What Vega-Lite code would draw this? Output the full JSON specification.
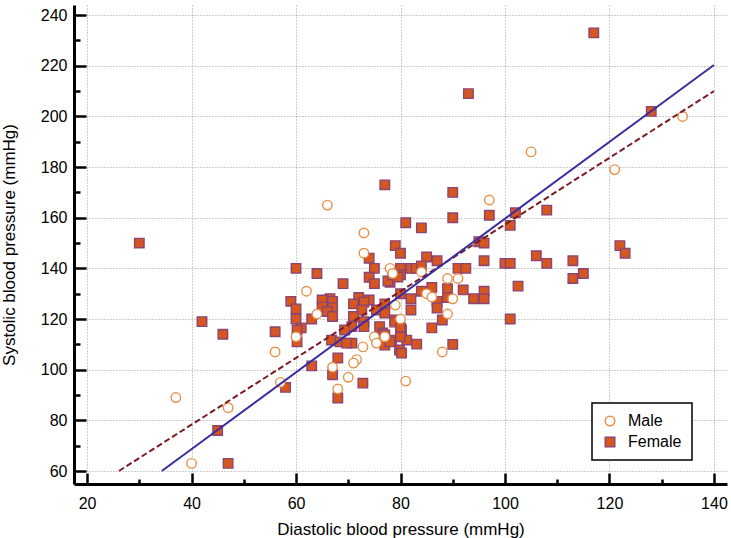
{
  "$schema": "https://vega.github.io/schema/vega-lite/v6.json",
  "width": 653,
  "height": 479,
  "autosize": {"type": "none"},
  "padding": {"left": 74, "top": 5, "right": 4, "bottom": 54},
  "config": {
    "view": {"stroke": null},
    "font": "Liberation Sans",
    "axis": {"labelFont": "Liberation Sans", "titleFont": "Liberation Sans"},
    "legend": {"labelFont": "Liberation Sans", "strokeWidth": 1.5}
  },
  "datasets": {
    "bp": [
      {"d":30,"s":150,"g":"Female"},{"d":117,"s":233,"g":"Female"},{"d":93,"s":209,"g":"Female"},{"d":128,"s":202,"g":"Female"},
      {"d":77,"s":173,"g":"Female"},{"d":90,"s":170,"g":"Female"},{"d":90,"s":160,"g":"Female"},{"d":97,"s":161,"g":"Female"},
      {"d":108,"s":163,"g":"Female"},{"d":102,"s":162,"g":"Female"},{"d":101,"s":157,"g":"Female"},{"d":81,"s":158,"g":"Female"},
      {"d":84,"s":156,"g":"Female"},{"d":79,"s":149,"g":"Female"},{"d":80,"s":146,"g":"Female"},{"d":95,"s":150.5,"g":"Female"},
      {"d":96,"s":150,"g":"Female"},{"d":96,"s":143,"g":"Female"},{"d":100,"s":142,"g":"Female"},{"d":101,"s":142,"g":"Female"},
      {"d":85,"s":144.5,"g":"Female"},{"d":87,"s":143,"g":"Female"},{"d":91,"s":140,"g":"Female"},{"d":92.5,"s":140,"g":"Female"},
      {"d":80,"s":140,"g":"Female"},{"d":82,"s":140,"g":"Female"},{"d":83,"s":140,"g":"Female"},{"d":84,"s":141,"g":"Female"},
      {"d":80,"s":137.5,"g":"Female"},{"d":78,"s":134.5,"g":"Female"},{"d":92,"s":131.5,"g":"Female"},{"d":96,"s":131,"g":"Female"},
      {"d":102.5,"s":133,"g":"Female"},{"d":86,"s":132.5,"g":"Female"},{"d":84,"s":131,"g":"Female"},{"d":89,"s":132,"g":"Female"},
      {"d":87,"s":127,"g":"Female"},{"d":82,"s":128,"g":"Female"},{"d":94,"s":128,"g":"Female"},{"d":89,"s":128.5,"g":"Female"},
      {"d":80,"s":130,"g":"Female"},{"d":77,"s":126,"g":"Female"},{"d":106,"s":145,"g":"Female"},{"d":108,"s":142,"g":"Female"},
      {"d":113,"s":143,"g":"Female"},{"d":113,"s":136,"g":"Female"},{"d":115,"s":138,"g":"Female"},{"d":122,"s":149,"g":"Female"},
      {"d":123,"s":146,"g":"Female"},{"d":101,"s":120,"g":"Female"},{"d":74,"s":144,"g":"Female"},{"d":75,"s":140,"g":"Female"},
      {"d":60,"s":140,"g":"Female"},{"d":64,"s":138,"g":"Female"},{"d":74,"s":136.5,"g":"Female"},{"d":75,"s":134,"g":"Female"},
      {"d":69,"s":134,"g":"Female"},{"d":77.6,"s":135,"g":"Female"},{"d":59,"s":127,"g":"Female"},{"d":66.5,"s":128,"g":"Female"},
      {"d":67,"s":127,"g":"Female"},{"d":60,"s":124,"g":"Female"},{"d":72,"s":128.5,"g":"Female"},{"d":74,"s":127.5,"g":"Female"},
      {"d":65,"s":127.5,"g":"Female"},{"d":65,"s":124.7,"g":"Female"},{"d":67,"s":124.5,"g":"Female"},{"d":66,"s":123,"g":"Female"},
      {"d":60,"s":120,"g":"Female"},{"d":63,"s":120,"g":"Female"},{"d":61,"s":116.5,"g":"Female"},{"d":67,"s":121,"g":"Female"},
      {"d":71,"s":126,"g":"Female"},{"d":73,"s":126.7,"g":"Female"},{"d":72.6,"s":123.6,"g":"Female"},{"d":71,"s":121,"g":"Female"},
      {"d":70.7,"s":117,"g":"Female"},{"d":73,"s":119,"g":"Female"},{"d":73,"s":117,"g":"Female"},{"d":75.4,"s":123.6,"g":"Female"},
      {"d":77,"s":122.4,"g":"Female"},{"d":76,"s":117,"g":"Female"},{"d":76.6,"s":114.5,"g":"Female"},{"d":78.3,"s":111.7,"g":"Female"},
      {"d":69.3,"s":115.7,"g":"Female"},{"d":66.8,"s":111.7,"g":"Female"},{"d":68.4,"s":111,"g":"Female"},{"d":70.7,"s":110.5,"g":"Female"},
      {"d":60.2,"s":115.7,"g":"Female"},{"d":60.2,"s":111,"g":"Female"},{"d":68,"s":104.6,"g":"Female"},{"d":78.9,"s":119.6,"g":"Female"},
      {"d":78.5,"s":137.4,"g":"Female"},{"d":79.5,"s":136.6,"g":"Female"},{"d":56,"s":115,"g":"Female"},{"d":63,"s":101.5,"g":"Female"},
      {"d":58,"s":93,"g":"Female"},{"d":69.7,"s":110.5,"g":"Female"},{"d":67,"s":98,"g":"Female"},{"d":72.8,"s":94.7,"g":"Female"},
      {"d":68,"s":88.8,"g":"Female"},{"d":82,"s":123.6,"g":"Female"},{"d":87,"s":124.3,"g":"Female"},{"d":96,"s":128,"g":"Female"},
      {"d":88,"s":119.6,"g":"Female"},{"d":86,"s":116.5,"g":"Female"},{"d":90,"s":110,"g":"Female"},{"d":78.9,"s":118.8,"g":"Female"},
      {"d":80.2,"s":115.7,"g":"Female"},{"d":77,"s":109.7,"g":"Female"},{"d":78,"s":111,"g":"Female"},{"d":79.8,"s":107.8,"g":"Female"},
      {"d":80.2,"s":106.6,"g":"Female"},{"d":81.2,"s":111.7,"g":"Female"},{"d":83.1,"s":110.1,"g":"Female"},{"d":80,"s":116.5,"g":"Female"},
      {"d":80,"s":113,"g":"Female"},{"d":77,"s":113.7,"g":"Female"},{"d":42,"s":119,"g":"Female"},{"d":46,"s":114,"g":"Female"},
      {"d":45,"s":76,"g":"Female"},{"d":47,"s":63,"g":"Female"},
      {"d":134,"s":200,"g":"Male"},{"d":121,"s":179,"g":"Male"},{"d":105,"s":186,"g":"Male"},{"d":66,"s":165,"g":"Male"},
      {"d":97,"s":167,"g":"Male"},{"d":73,"s":154,"g":"Male"},{"d":73,"s":146,"g":"Male"},{"d":62,"s":131,"g":"Male"},
      {"d":78,"s":140,"g":"Male"},{"d":78.5,"s":138,"g":"Male"},{"d":84,"s":138.6,"g":"Male"},{"d":89,"s":136,"g":"Male"},
      {"d":91,"s":136,"g":"Male"},{"d":85,"s":130,"g":"Male"},{"d":86,"s":128.7,"g":"Male"},{"d":90,"s":128,"g":"Male"},
      {"d":79,"s":125.5,"g":"Male"},{"d":89,"s":122,"g":"Male"},{"d":80,"s":120,"g":"Male"},{"d":64,"s":122,"g":"Male"},
      {"d":60,"s":113,"g":"Male"},{"d":56,"s":107,"g":"Male"},{"d":57,"s":95,"g":"Male"},{"d":72.8,"s":109,"g":"Male"},
      {"d":75,"s":113,"g":"Male"},{"d":75.4,"s":110.5,"g":"Male"},{"d":77,"s":113,"g":"Male"},{"d":71.6,"s":104,"g":"Male"},
      {"d":67,"s":101,"g":"Male"},{"d":71,"s":102.6,"g":"Male"},{"d":70,"s":97,"g":"Male"},{"d":68,"s":92.4,"g":"Male"},
      {"d":88,"s":107,"g":"Male"},{"d":81,"s":95.5,"g":"Male"},{"d":37,"s":89,"g":"Male"},{"d":47,"s":85,"g":"Male"},
      {"d":40,"s":63,"g":"Male"}
    ],
    "fits": [
      {"fit":"solid","d":34.3,"s":60},{"fit":"solid","d":140,"s":220.3},
      {"fit":"dashed","d":26.1,"s":60},{"fit":"dashed","d":140,"s":210}
    ]
  },
  "resolve": {"axis": {"x": "independent", "y": "independent"}},
  "layer": [
    {
      "data": {"name": "bp"},
      "mark": {"type": "point", "filled": false, "opacity": 1, "size": 90, "strokeWidth": 1.4},
      "encoding": {
        "x": {
          "field": "d", "type": "quantitative",
          "scale": {"domain": [17.5, 142.5], "nice": false, "zero": false},
          "axis": {
            "orient": "bottom",
            "values": [20, 40, 60, 80, 100, 120, 140],
            "tickSize": -11, "tickWidth": 2.5, "tickColor": "black",
            "domainColor": "black", "domainWidth": 3,
            "grid": true, "gridColor": "#9a9a9a", "gridDash": [1, 2], "gridWidth": 1,
            "labelFontSize": 16, "labelColor": "black", "labelPadding": 22, "labelFlush": false,
            "title": "Diastolic blood pressure (mmHg)", "titleFontSize": 17, "titleFontWeight": "normal",
            "titleColor": "black", "titlePadding": 10
          }
        },
        "y": {
          "field": "s", "type": "quantitative",
          "scale": {"domain": [54.87, 244], "nice": false, "zero": false},
          "axis": {
            "orient": "left",
            "values": [60, 80, 100, 120, 140, 160, 180, 200, 220, 240],
            "tickSize": -12, "tickWidth": 2.5, "tickColor": "black",
            "domainColor": "black", "domainWidth": 3,
            "grid": true, "gridColor": "#9a9a9a", "gridDash": [1, 2], "gridWidth": 1,
            "labelFontSize": 16, "labelColor": "black", "labelPadding": 19, "labelFlush": false,
            "title": "Systolic blood pressure (mmHg)", "titleFontSize": 17, "titleFontWeight": "normal",
            "titleColor": "black", "titlePadding": 22
          }
        },
        "shape": {
          "field": "g", "type": "nominal",
          "scale": {"domain": ["Male", "Female"], "range": ["circle", "square"]},
          "legend": {
            "title": null, "orient": "none", "legendX": 518, "legendY": 398,
            "strokeColor": "black", "fillColor": "white",
            "padding": 10, "labelFontSize": 16, "labelColor": "black", "symbolSize": 90,
            "rowPadding": 5, "labelOffset": 10
          }
        },
        "fill": {
          "field": "g", "type": "nominal",
          "scale": {"domain": ["Male", "Female"], "range": ["#ffffff", "#d5561e"]},
          "legend": {
            "title": null, "orient": "none", "legendX": 518, "legendY": 398,
            "strokeColor": "black", "fillColor": "white",
            "padding": 10, "labelFontSize": 16, "labelColor": "black", "symbolSize": 90,
            "rowPadding": 5, "labelOffset": 10
          }
        },
        "stroke": {
          "field": "g", "type": "nominal",
          "scale": {"domain": ["Male", "Female"], "range": ["#e8904a", "#8a4475"]},
          "legend": {
            "title": null, "orient": "none", "legendX": 518, "legendY": 398,
            "strokeColor": "black", "fillColor": "white",
            "padding": 10, "labelFontSize": 16, "labelColor": "black", "symbolSize": 90,
            "rowPadding": 5, "labelOffset": 10
          }
        }
      }
    },
    {
      "data": {"name": "fits"},
      "transform": [{"filter": "datum.fit === 'dashed'"}],
      "mark": {"type": "line", "color": "#7a1c22", "strokeWidth": 2, "strokeDash": [6, 3]},
      "encoding": {
        "x": {
          "field": "d", "type": "quantitative",
          "axis": {
            "orient": "bottom", "values": [30, 50, 70, 90, 110, 130],
            "tickSize": -5, "tickWidth": 2.5, "tickColor": "black",
            "domain": false, "grid": false, "labels": false, "title": null
          }
        },
        "y": {
          "field": "s", "type": "quantitative",
          "axis": {
            "orient": "left", "values": [70, 90, 110, 130, 150, 170, 190, 210, 230],
            "tickSize": -6, "tickWidth": 2.5, "tickColor": "black",
            "domain": false, "grid": false, "labels": false, "title": null
          }
        }
      }
    },
    {
      "data": {"name": "fits"},
      "transform": [{"filter": "datum.fit === 'solid'"}],
      "mark": {"type": "line", "color": "#3a2e9e", "strokeWidth": 2},
      "encoding": {
        "x": {"field": "d", "type": "quantitative", "axis": null},
        "y": {"field": "s", "type": "quantitative", "axis": null}
      }
    }
  ]
}
